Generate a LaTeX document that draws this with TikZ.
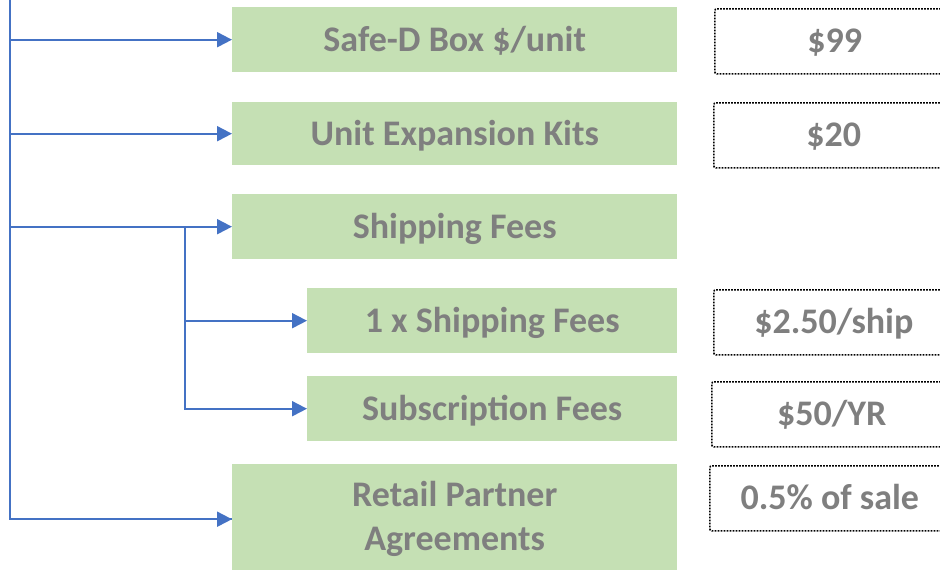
\documentclass[tikz,border=0pt]{standalone}
\usepackage{fontspec}
\setmainfont{Carlito}
\usetikzlibrary{arrows.meta}
\definecolor{boxgreen}{HTML}{C5E0B4}
\definecolor{linkblue}{HTML}{4472C4}
\definecolor{labelgray}{HTML}{7F7F7F}
\tikzset{
  labelfont/.style={text=labelgray, font=\fontsize{36}{44}\selectfont\bfseries},
  oneline/.style={text height=23pt, text depth=0pt},
  item/.style={labelfont, fill=boxgreen, draw=none, inner sep=0pt,
    anchor=north west, align=center},
  price/.style={labelfont, oneline, draw=black, line width=1.6pt,
    dash pattern=on 1.6pt off 1.4pt, rounded corners=2pt,
    inner sep=0pt, anchor=north west, minimum width=240pt},
  link/.style={draw=linkblue, line width=2pt,
    -{Triangle[length=15pt,width=15pt]}},
  trunk/.style={draw=linkblue, line width=2pt}
}
\begin{document}
\begin{tikzpicture}[x=1pt, y=-1pt]
  \useasboundingbox (0,0) rectangle (940,570);
  \clip (0,0) rectangle (940,570);

  % category boxes
  \node[item, oneline, minimum width=445pt, minimum height=65pt] (s1) at (232,7) {Safe-D Box \$/unit};
  \node[item, oneline, minimum width=445pt, minimum height=63pt] (s2) at (232,102) {Unit Expansion Kits};
  \node[item, oneline, minimum width=445pt, minimum height=65pt] (s3) at (232,194) {Shipping Fees};
  \node[item, oneline, minimum width=370pt, minimum height=65pt] (s4) at (307,288) {1 x Shipping Fees};
  \node[item, oneline, minimum width=370pt, minimum height=65pt] (s5) at (307,376) {Subscription Fees};
  \node[item, minimum width=445pt, minimum height=110pt] (s6) at (232,464) {Retail Partner\\Agreements};

  % price boxes
  \node[price, minimum height=65pt] (v1) at (714,8) {\$99};
  \node[price, minimum height=65pt] (v2) at (713,102) {\$20};
  \node[price, minimum height=65pt] (v3) at (713,289) {\$2.50/ship};
  \node[price, minimum height=65pt] (v4) at (711,381) {\$50/YR};
  \node[price, minimum height=65pt] (v5) at (709,465) {0.5\% of sale};

  % main trunk and branches
  \coordinate (top) at (10,-2);
  \coordinate (fork) at (185,227);
  \draw[trunk] (top) |- (s6.west);
  \draw[link] (top |- s1.west) -- (s1.west);
  \draw[link] (top |- s2.west) -- (s2.west);
  \draw[link] (top |- s3.west) -- (s3.west);
  \draw[link] (top |- s6.west) -- (s6.west);

  % shipping sub-branches
  \draw[link] (fork) |- (s4.west);
  \draw[link] (fork) |- (s5.west);
\end{tikzpicture}
\end{document}
